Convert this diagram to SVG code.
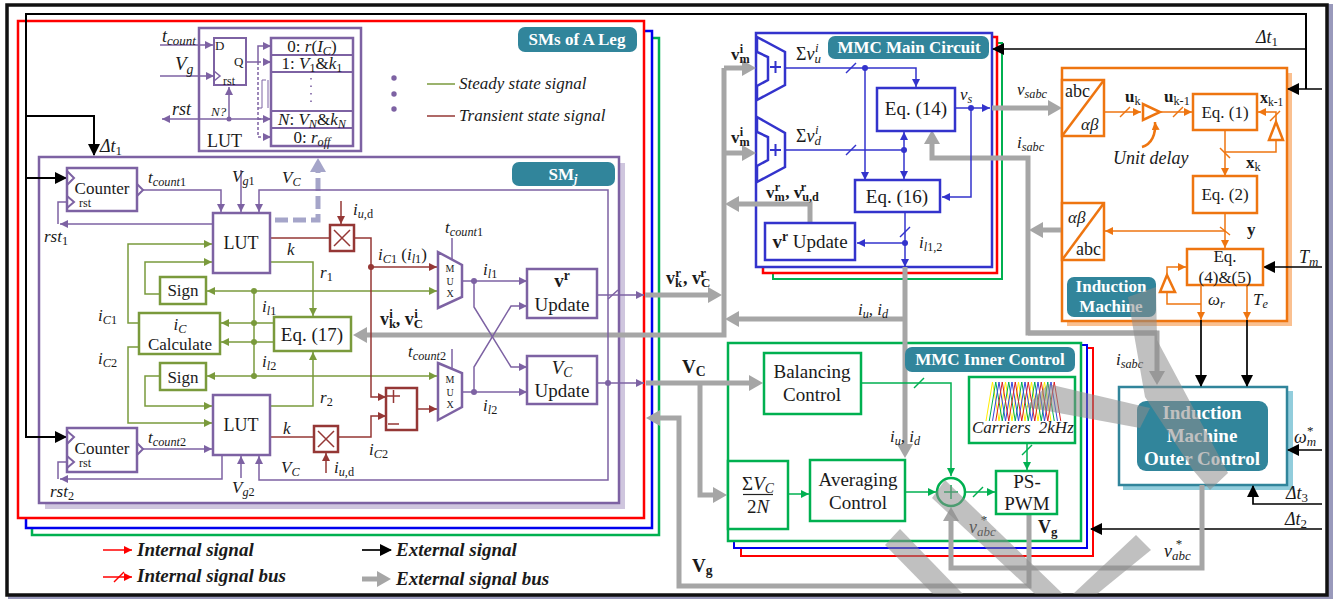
<svg xmlns="http://www.w3.org/2000/svg" width="1333" height="599" viewBox="0 0 1333 599">
<style>
text{font-family:"Liberation Serif","Times New Roman",serif;font-size:17px;fill:#1a1a1a}
.i{font-style:italic}.b{font-weight:bold}.m{text-anchor:middle}
.u{font-size:72%;}
.r{font-style:normal}
.w{fill:#fff;font-weight:bold;text-anchor:middle}
.f19{font-size:19px}.f18{font-size:18px}.f17{font-size:17px}.f16{font-size:16px}.f15{font-size:15px}.f13{font-size:13px}.f12{font-size:12px}.f10{font-size:10px}
path,line,rect,polyline,polygon,circle{fill:none}
.p{stroke:#7d62a3;stroke-width:1.5}.pB{stroke:#7d62a3;stroke-width:2.5;fill:#fff}
.g{stroke:#7a9a3c;stroke-width:1.5}.gB{stroke:#7a9a3c;stroke-width:2.5;fill:#fff}
.m1{stroke:#953735;stroke-width:1.5}.mB{stroke:#953735;stroke-width:2.5;fill:#fff}
.n{stroke:#3333cc;stroke-width:1.5}.nB{stroke:#3333cc;stroke-width:2.5;fill:#fff}
.o{stroke:#ee7510;stroke-width:1.5}.oB{stroke:#ee7510;stroke-width:2.5;fill:#fff}
.e{stroke:#00b050;stroke-width:1.5}.eB{stroke:#00b050;stroke-width:2.5;fill:#fff}
.k{stroke:#000;stroke-width:1.7}
.y{stroke:#a6a6a6;stroke-width:5}
.s{fill:#8c8c8c;opacity:.55}
</style>
<defs>
<marker id="Ap" markerUnits="userSpaceOnUse" markerWidth="9" markerHeight="9" refX="8" refY="4" orient="auto"><path d="M0 0L8 4L0 8z" style="fill:#7d62a3"/></marker>
<marker id="Ag" markerUnits="userSpaceOnUse" markerWidth="9" markerHeight="9" refX="8" refY="4" orient="auto"><path d="M0 0L8 4L0 8z" style="fill:#7a9a3c"/></marker>
<marker id="Am" markerUnits="userSpaceOnUse" markerWidth="9" markerHeight="9" refX="8" refY="4" orient="auto"><path d="M0 0L8 4L0 8z" style="fill:#953735"/></marker>
<marker id="An" markerUnits="userSpaceOnUse" markerWidth="9" markerHeight="9" refX="8" refY="4" orient="auto"><path d="M0 0L8 4L0 8z" style="fill:#3333cc"/></marker>
<marker id="Ao" markerUnits="userSpaceOnUse" markerWidth="9" markerHeight="9" refX="8" refY="4" orient="auto"><path d="M0 0L8 4L0 8z" style="fill:#ee7510"/></marker>
<marker id="Ae" markerUnits="userSpaceOnUse" markerWidth="9" markerHeight="9" refX="8" refY="4" orient="auto"><path d="M0 0L8 4L0 8z" style="fill:#00b050"/></marker>
<marker id="Ak" markerUnits="userSpaceOnUse" markerWidth="13" markerHeight="13" refX="11" refY="6" orient="auto"><path d="M0 0L12 6L0 12z" style="fill:#000"/></marker>
<marker id="Ar" markerUnits="userSpaceOnUse" markerWidth="9" markerHeight="9" refX="8" refY="4" orient="auto"><path d="M0 0L8 4L0 8z" style="fill:#ff0000"/></marker>
<marker id="Ay" markerUnits="userSpaceOnUse" markerWidth="15" markerHeight="18" refX="7" refY="8" orient="auto"><path d="M0 0L14 8L0 16z" style="fill:#a6a6a6"/></marker>
<marker id="AL" markerUnits="userSpaceOnUse" markerWidth="15" markerHeight="18" refX="7" refY="8" orient="auto"><path d="M0 0L14 8L0 16z" style="fill:#a5a5c9"/></marker>
<path id="wave" d="M0 39l6.500-39l6.500 39l6.500-39l6.500 39l6.500-39l6.500 39l6.500-39l6.500 39l6.500-39l6.500 39" style="stroke-width:1"/>
</defs>

<rect x="0" y="0" width="1333" height="599" style="fill:#fff"/>
<path d="M1328 4H1333V599H8V596H1328z" style="fill:#9999bb"/>
<rect id="outer-frame" x="7" y="5" width="1320" height="590" style="stroke:#111;stroke-width:3.5"/>

<g id="sms-frames">
<rect x="32" y="38" width="627" height="497" style="stroke:#00b050;stroke-width:2.5;fill:#fff"/>
<rect x="26" y="31" width="626" height="497" style="stroke:#0000ee;stroke-width:2.5;fill:#fff"/>
<rect x="18" y="21" width="626" height="497" style="stroke:#ff0000;stroke-width:2.5;fill:#fff"/>
</g>
<g id="mmc-main-frames">
<rect x="773" y="43" width="229" height="236" style="stroke:#00b050;stroke-width:2;fill:#fff"/>
<rect x="763" y="37" width="234" height="236" style="stroke:#ff0000;stroke-width:2.5;fill:#fff"/>
</g>
<g id="mmc-inner-frames">
<rect x="741" y="348" width="352" height="208" style="stroke:#ff0000;stroke-width:2;fill:#fff"/>
<rect x="734" y="345" width="353" height="203" style="stroke:#0000ee;stroke-width:2;fill:#fff"/>
</g>

<g id="sm-j-frame">
<rect x="45" y="163" width="580" height="346" style="fill:#cfc6de"/>
<rect x="39" y="157" width="580" height="346" style="stroke:#7d62a3;stroke-width:2.5;fill:#fff"/>
</g>
<rect id="mmc-main-box" x="756" y="33" width="236" height="234" style="stroke:#3333cc;stroke-width:2.5;fill:#fff"/>
<rect id="mmc-inner-box" x="728" y="343" width="353" height="198" style="stroke:#00b050;stroke-width:2.5;fill:#fff"/>
<g id="im-frame">
<rect x="1067" y="73" width="225" height="253" style="fill:#fac090"/>
<rect x="1062" y="68" width="225" height="253" style="stroke:#ee7510;stroke-width:2.5;fill:#fff"/>
</g>
<g id="outer-control-frame">
<rect x="1123" y="391" width="170" height="99" style="fill:#92cddc"/>
<rect x="1119" y="387" width="168" height="98" style="stroke:#31859b;stroke-width:2.5;fill:#fff"/>
</g>

<g id="lut-table">
<rect class="pB" x="199" y="28" width="162" height="123"/>
<rect x="271" y="38" width="82" height="108" class="pB"/>
<path class="p" style="stroke-width:2" d="M271 55H353M271 72H353M271 111H353M271 128H353"/>
<path d="M311 78V106" style="stroke:#7d62a3;stroke-width:1.6;stroke-dasharray:1.5 6"/>
<rect x="214" y="38" width="32" height="47" class="p" style="stroke-width:2;fill:#fff"/>
<path class="p" d="M214 71L220 76L214 81"/>
<text x="215" y="50" class="f13">D</text><text x="234" y="66" class="f13">Q</text><text x="223" y="85" class="f12">rst</text>
<text x="211" y="116" class="i f13">N?</text>
<text x="207" y="147" class="f18">LUT</text>
<text x="312" y="52" class="m f17">0: <tspan class="i">r</tspan>(<tspan class="i">I<tspan class="u" dy="3">C</tspan></tspan><tspan dy="-3">)</tspan></text>
<text x="312" y="69" class="m f17">1: <tspan class="i">V</tspan><tspan class="u" dy="3">1</tspan><tspan dy="-3">&amp;</tspan><tspan class="i">k</tspan><tspan class="u" dy="3">1</tspan></text>
<text x="312" y="125" class="m f17"><tspan class="i">N</tspan>: <tspan class="i">V<tspan class="u" dy="3">N</tspan></tspan><tspan dy="-3">&amp;</tspan><tspan class="i">k<tspan class="u" dy="3">N</tspan></tspan></text>
<text x="312" y="143" class="m f17">0: <tspan class="i">r<tspan class="u" dy="3">off</tspan></tspan></text>
</g>

<g id="connectors">
<path class="k" style="stroke-width:2" d="M26 180V14H1306V89"/>
<path class="k" d="M1306 49H993" marker-end="url(#Ak)"/>
<path class="k" d="M1322 89H1288" marker-end="url(#Ak)"/>
<path class="k" style="stroke-width:2" d="M26 116H94V155" marker-end="url(#Ak)"/>
<path class="k" style="stroke-width:2" d="M26 178H66" marker-end="url(#Ak)"/>
<path class="k" style="stroke-width:2" d="M26 178V437H66" marker-end="url(#Ak)"/>
<path class="k" d="M1322 267H1264" marker-end="url(#Ak)"/>
<path class="k" d="M1201 320V386" marker-end="url(#Ak)"/>
<path class="k" d="M1247 320V386" marker-end="url(#Ak)"/>
<path class="k" d="M1322 450H1288" marker-end="url(#Ak)"/>
<path class="k" d="M1322 504H1253V486" marker-end="url(#Ak)"/>
<path class="k" d="M1322 529H1091" marker-end="url(#Ak)"/>

<path class="y" d="M645 295H715" marker-end="url(#Ay)"/>
<path class="y" d="M724 68V335H360" marker-end="url(#Ay)"/>
<path class="y" d="M724 68H749" marker-end="url(#Ay)"/>
<path class="y" d="M724 153H749" marker-end="url(#Ay)"/>
<path class="y" d="M810 223V204H732" marker-end="url(#Ay)"/>
<path class="y" d="M905 267V451" marker-end="url(#Ay)"/>
<path class="y" d="M905 319H732" marker-end="url(#Ay)"/>
<path class="y" d="M646 383H756" marker-end="url(#Ay)"/>
<path class="y" d="M700 383V495H720" marker-end="url(#Ay)"/>
<path class="y" d="M1029 514V586H679V418H653" marker-end="url(#Ay)"/>
<path class="y" d="M1202 485V568H951V514" marker-end="url(#Ay)"/>
<path class="y" d="M992 108H1055" marker-end="url(#Ay)"/>
<path class="y" d="M1157 333H1028V158H932V137" marker-end="url(#Ay)"/>
<path class="y" d="M1028 333H1157V378" marker-end="url(#Ay)"/>
<path class="y" d="M1062 230H1036" marker-end="url(#Ay)"/>
<path d="M275 220H318V165" style="stroke:#a5a5c9;stroke-width:5;stroke-dasharray:13 5" marker-end="url(#AL)"/>

<path class="p" d="M160 45H213" marker-end="url(#Ap)"/>
<path class="p" d="M160 76H214" marker-end="url(#Ap)"/>
<path class="p" d="M271 119H162" marker-end="url(#Ap)"/>
<path class="p" d="M229 119V87" marker-end="url(#Ap)"/>
<path class="p" d="M246 62H258V46H271" marker-end="url(#Ap)"/>
<path class="p" d="M258 62H271M258 119H271M258 137H271M258 62V137" style="stroke-dasharray:3 2" />
<path class="p" d="M266 62H271" marker-end="url(#Ap)"/>
<path class="p" d="M266 119H271" marker-end="url(#Ap)"/>
<path class="p" d="M266 137H271" marker-end="url(#Ap)"/>
<path class="p" style="stroke-width:1" d="M266 80H262V108H258M268 80V108"/>
<path class="p" d="M142 190H221V212" marker-end="url(#Ap)"/>
<path class="p" d="M241 170V212" marker-end="url(#Ap)"/>
<path class="p" d="M608 383V190H259V212" marker-end="url(#Ap)"/>
<path class="p" d="M213 224H60" marker-end="url(#Ap)"/>
<path class="p" d="M58 224V202H67"/>
<path class="p" d="M142 449H212" marker-end="url(#Ap)"/>
<path class="p" d="M222 455V479H60" marker-end="url(#Ap)"/>
<path class="p" d="M58 479V462H67"/>
<path class="p" d="M241 478V456" marker-end="url(#Ap)"/>
<path class="p" d="M608 383V480H259V456" marker-end="url(#Ap)"/>
<path class="p" d="M452 238V260"/><path class="p" d="M452 349V368"/>
<path class="p" d="M462 281H527" marker-end="url(#Ap)"/>
<path class="p" d="M462 392H527" marker-end="url(#Ap)"/>
<path class="p" d="M474 281V307L511 367H527" marker-end="url(#Ap)"/>
<path class="p" d="M474 392V367L511 306H527" marker-end="url(#Ap)"/>
<path class="p" d="M597 295H644" marker-end="url(#Ap)"/>
<path class="p" d="M608 299L618 290"/>
<path class="p" d="M597 383H644" marker-end="url(#Ap)"/>

<path class="g" d="M139 323H128V244H212" marker-end="url(#Ag)"/>
<path class="g" d="M139 347H128V423H212" marker-end="url(#Ag)"/>
<path class="g" d="M160 294H145V262H212" marker-end="url(#Ag)"/>
<path class="g" d="M160 376H145V406H212" marker-end="url(#Ag)"/>
<path class="g" d="M270 262H313V316" marker-end="url(#Ag)"/>
<path class="g" d="M270 406H313V352" marker-end="url(#Ag)"/>
<path class="g" d="M300 291H207" marker-end="url(#Ag)"/>
<path class="g" d="M300 291H437" marker-end="url(#Ag)"/>
<path class="g" d="M300 376H207" marker-end="url(#Ag)"/>
<path class="g" d="M300 376H437" marker-end="url(#Ag)"/>
<path class="g" d="M254 291V376"/>
<path class="g" d="M274 323H221" marker-end="url(#Ag)"/>
<path class="g" d="M274 342H221" marker-end="url(#Ag)"/>

<path class="m1" d="M270 238H330"/>
<path class="m1" d="M341 201V224" marker-end="url(#Am)"/>
<path class="m1" d="M354 238H371V397H386" marker-end="url(#Am)"/>
<path class="m1" d="M371 267H437" marker-end="url(#Am)"/>
<path class="m1" d="M270 437H314"/>
<path class="m1" d="M326 473V453" marker-end="url(#Am)"/>
<path class="m1" d="M338 437H371V416H386" marker-end="url(#Am)"/>
<path class="m1" d="M417 409H437" marker-end="url(#Am)"/>

<path class="n" d="M785 68H916V87" marker-end="url(#An)"/>
<path class="n" d="M846 73L856 63"/>
<path class="n" d="M865 68V180" marker-end="url(#An)"/>
<path class="n" d="M785 150H904"/>
<path class="n" d="M846 155L856 145"/>
<path class="n" d="M904 150V132" marker-end="url(#An)"/>
<path class="n" d="M904 150V179" marker-end="url(#An)"/>
<path class="n" d="M955 108H990" marker-end="url(#An)"/>
<path class="n" d="M971 108V197H942" marker-end="url(#An)"/>
<path class="n" d="M905 212V267" marker-end="url(#An)"/>
<path class="n" d="M900 237L910 227"/>
<path class="n" d="M905 243H857" marker-end="url(#An)"/>

<path class="e" d="M861 383H951V476" marker-end="url(#Ae)"/>
<path class="e" d="M914 388L924 378"/>
<path class="e" d="M788 494H809" marker-end="url(#Ae)"/>
<path class="e" d="M905 492H936" marker-end="url(#Ae)"/>
<path class="e" d="M965 492H995" marker-end="url(#Ae)"/>
<path class="e" d="M973 497L983 487"/>
<path class="e" d="M1027 443V470" marker-end="url(#Ae)"/>
<path class="e" d="M1022 455L1032 445"/>

<path class="o" d="M1104 112H1141" marker-end="url(#Ao)"/>
<path class="o" d="M1120 117L1130 107"/>
<path class="o" d="M1160 112H1192" marker-end="url(#Ao)"/>
<path class="o" d="M1173 117L1183 107"/>
<path class="o" style="stroke-width:2.5" d="M1142 147C1152 144 1156 134 1155 122" marker-end="url(#Ao)"/>
<path class="o" d="M1276 122V112H1258" marker-end="url(#Ao)"/>
<path class="o" d="M1270 121L1280 111"/>
<path class="o" d="M1276 140V152H1225"/>
<path class="o" d="M1225 130V176" marker-end="url(#Ao)"/>
<path class="o" d="M1220 148L1230 158"/>
<path class="o" d="M1225 213V248" marker-end="url(#Ao)"/>
<path class="o" d="M1220 227L1230 235"/>
<path class="o" d="M1225 231H1105" marker-end="url(#Ao)"/>
<path class="o" d="M1167 275V267H1186" marker-end="url(#Ao)"/>
<path class="o" d="M1167 292V304H1201"/>
<path class="o" d="M1201 285V320" marker-end="url(#Ao)"/>
<path class="o" d="M1247 285V320" marker-end="url(#Ao)"/>

<g id="junctions">
<circle cx="229" cy="119" r="2.5" style="fill:#7d62a3"/>
<circle cx="474" cy="281" r="3" style="fill:#7d62a3"/>
<circle cx="474" cy="392" r="3" style="fill:#7d62a3"/>
<circle cx="608" cy="383" r="3" style="fill:#7d62a3"/>
<circle cx="254" cy="291" r="3" style="fill:#7a9a3c"/>
<circle cx="254" cy="323" r="3" style="fill:#7a9a3c"/>
<circle cx="254" cy="342" r="3" style="fill:#7a9a3c"/>
<circle cx="254" cy="376" r="3" style="fill:#7a9a3c"/>
<circle cx="371" cy="267" r="3" style="fill:#953735"/>
<circle cx="865" cy="68" r="3" style="fill:#3333cc"/>
<circle cx="904" cy="150" r="3" style="fill:#3333cc"/>
<circle cx="971" cy="108" r="3" style="fill:#3333cc"/>
<circle cx="905" cy="243" r="3" style="fill:#3333cc"/>
<circle cx="394" cy="78" r="2.7" style="fill:#7d62a3"/>
<circle cx="394" cy="94" r="2.7" style="fill:#7d62a3"/>
<circle cx="394" cy="109" r="2.7" style="fill:#7d62a3"/>
</g>

<path style="stroke:#7a9a3c;stroke-width:1.5" d="M427 84H455"/>
<path style="stroke:#953735;stroke-width:1.5" d="M427 116H455"/>
<path style="stroke:#ff0000;stroke-width:1.5" d="M103 550H132" marker-end="url(#Ar)"/>
<path style="stroke:#ff0000;stroke-width:1.5" d="M103 577H132" marker-end="url(#Ar)"/>
<path style="stroke:#ff0000;stroke-width:1.5" d="M114 582L124 572"/>
<path class="k" d="M362 550H391" marker-end="url(#Ak)"/>
<path class="y" d="M362 579H384" marker-end="url(#Ay)"/>
</g>

<g id="counter1"><rect class="pB" x="67" y="168" width="70" height="43"/><path class="p" style="stroke-width:2" d="M67 171L74 178L67 185M67 196L74 202L67 208M137 184L143 190L137 196"/><text x="102" y="194" class="m">Counter</text><text x="79" y="207" class="f12">rst</text></g>
<g id="counter2"><rect class="pB" x="67" y="428" width="70" height="44"/><path class="p" style="stroke-width:2" d="M67 431L74 437L67 444M67 456L74 462L67 468M137 443L143 449L137 455"/><text x="102" y="454" class="m">Counter</text><text x="79" y="467" class="f12">rst</text></g>
<g id="lut1"><rect class="pB" x="213" y="213" width="57" height="60"/><text x="241" y="249" class="m f18">LUT</text></g>
<g id="lut2"><rect class="pB" x="213" y="395" width="57" height="60"/><text x="241" y="431" class="m f18">LUT</text></g>
<g id="mult1"><rect class="mB" x="330" y="225" width="24" height="26"/><path class="m1" d="M334 230L350 246M350 230L334 246"/></g>
<g id="mult2"><rect class="mB" x="314" y="426" width="24" height="26"/><path class="m1" d="M318 431L334 447M334 431L318 447"/></g>
<g id="sign1"><rect class="gB" x="160" y="277" width="46" height="27"/><text x="183" y="296" class="m">Sign</text></g>
<g id="sign2"><rect class="gB" x="160" y="363" width="46" height="27"/><text x="183" y="383" class="m">Sign</text></g>
<g id="ic-calc"><rect class="gB" x="139" y="313" width="81" height="41"/><text x="180" y="330" class="m i">i<tspan class="u" dy="3">C</tspan></text><text x="180" y="350" class="m">Calculate</text></g>
<g id="eq17"><rect class="gB" x="274" y="317" width="77" height="34"/><text x="312" y="341" class="m f19">Eq. (17)</text></g>
<g id="subtractor"><rect class="mB" x="386" y="388" width="31" height="42"/><path class="m1" d="M387 396H400M393.500 390V403M388 424H399"/></g>
<g id="mux1"><polygon class="pB" points="438,252 462,265 462,297 438,308"/><text x="450" y="272" class="m f10">M</text><text x="450" y="285" class="m f10">U</text><text x="450" y="297" class="m f10">X</text></g>
<g id="mux2"><polygon class="pB" points="438,363 462,373 462,407 438,420"/><text x="450" y="383" class="m f10">M</text><text x="450" y="396" class="m f10">U</text><text x="450" y="408" class="m f10">X</text></g>
<g id="vr-update"><rect class="pB" x="527" y="269" width="70" height="49"/><text x="562" y="287" class="m b f19">v<tspan class="u" dy="-7">r</tspan></text><text x="562" y="311" class="m f19">Update</text></g>
<g id="vc-update"><rect class="pB" x="527" y="356" width="70" height="48"/><text x="562" y="374" class="m i f19">V<tspan class="u" dy="3">C</tspan></text><text x="562" y="397" class="m f19">Update</text></g>

<g id="adder1"><path class="nB" d="M757 37L785 52V85L757 100V86L768 80V57L757 52z"/><path class="n" style="stroke-width:2" d="M770 67H781M775.500 61V73"/></g>
<g id="adder2"><path class="nB" d="M757 117L785 133V167L757 182V166L768 160V137L757 132z"/><path class="n" style="stroke-width:2" d="M770 150H781M775.500 144V156"/></g>
<g id="eq14"><rect class="nB" x="877" y="88" width="78" height="43"/><text x="916" y="115" class="m f19">Eq. (14)</text></g>
<g id="eq16"><rect class="nB" x="855" y="180" width="85" height="32"/><text x="897" y="203" class="m f19">Eq. (16)</text></g>
<g id="vr-update-main"><rect class="nB" x="765" y="223" width="90" height="37"/><text x="810" y="248" class="m f19"><tspan class="b">v<tspan class="u" dy="-7">r</tspan></tspan><tspan dy="7"> Update</tspan></text></g>

<g id="abc-1"><rect class="oB" x="1062" y="80" width="42" height="56"/><path class="o" style="stroke-width:2.500" d="M1104 80L1062 136"/><text x="1065" y="97" class="f18">abc</text><text x="1081" y="130" class="i">αβ</text></g>
<g id="abc-2"><rect class="oB" x="1062" y="203" width="42" height="57"/><path class="o" style="stroke-width:2.500" d="M1104 203L1062 260"/><text x="1068" y="223" class="i">αβ</text><text x="1076" y="255" class="f18">abc</text></g>
<g id="delay1"><polygon class="oB" points="1143,104 1143,120 1160,112"/></g>
<g id="delay2"><polygon class="oB" points="1276,122 1269,140 1283,140"/></g>
<g id="delay3"><polygon class="oB" points="1167,275 1160,292 1175,292"/></g>
<g id="eq1"><rect class="oB" x="1193" y="94" width="64" height="36"/><text x="1225" y="118" class="m">Eq. (1)</text></g>
<g id="eq2"><rect class="oB" x="1193" y="176" width="64" height="37"/><text x="1225" y="200" class="m">Eq. (2)</text></g>
<g id="eq45"><rect class="oB" x="1187" y="249" width="76" height="36"/><text x="1225" y="262" class="m">Eq.</text><text x="1225" y="283" class="m">(4)&amp;(5)</text></g>
<g id="im-label"><rect style="fill:#31859b" x="1067" y="277" width="89" height="40" rx="7"/><text x="1111" y="292" class="w f17">Induction</text><text x="1111" y="312" class="w f17">Machine</text></g>
<g id="outer-label"><rect style="fill:#31859b" x="1137" y="401" width="131" height="70" rx="9"/><text x="1202" y="419" class="w f19">Induction</text><text x="1202" y="442" class="w f19">Machine</text><text x="1202" y="465" class="w f19">Outer Control</text></g>

<g id="balancing"><rect class="eB" x="764" y="353" width="97" height="61"/><text x="812" y="378" class="m f19">Balancing</text><text x="812" y="401" class="m f19">Control</text></g>
<g id="sigma"><rect class="eB" x="728" y="461" width="60" height="68"/><text x="758" y="490" class="m f19">Σ<tspan class="i">V<tspan class="u" dy="3">C</tspan></tspan></text><path d="M743 494.500H773" style="stroke:#222;stroke-width:1.200"/><text x="758" y="513" class="m i f19"><tspan class="r">2</tspan>N</text></g>
<g id="averaging"><rect class="eB" x="810" y="460" width="95" height="61"/><text x="858" y="486" class="m f19">Averaging</text><text x="858" y="509" class="m f19">Control</text></g>
<g id="sum"><circle class="eB" cx="951" cy="492" r="14"/><path class="e" d="M944 492H958M951 485V499"/></g>
<g id="pspwm"><rect class="eB" x="996" y="471" width="61" height="43"/><text x="1027" y="488" class="m f19">PS-</text><text x="1027" y="510" class="m f19">PWM</text></g>
<g id="carriers"><rect class="eB" x="969" y="377" width="106" height="66"/>
<use href="#wave" x="986" y="382" style="stroke:#ffee00"/>
<use href="#wave" x="989.250" y="382" style="stroke:#00b050"/>
<use href="#wave" x="992.500" y="382" style="stroke:#3344dd"/>
<use href="#wave" x="995.750" y="382" style="stroke:#dd2222"/>
<text x="972" y="433" class="i">Carriers <tspan dx="4">2kHz</tspan></text></g>

<g id="headers">
<rect x="518" y="27" width="119" height="25" rx="7" style="fill:#31859b"/><text x="577" y="45" class="w f17">SMs of A Leg</text>
<rect x="512" y="162" width="103" height="24" rx="7" style="fill:#31859b"/><text x="563" y="180" class="w f17">SM<tspan class="i u" dy="3">j</tspan></text>
<rect x="828" y="36" width="161" height="23" rx="7" style="fill:#31859b"/><text x="909" y="53" class="w f17">MMC Main Circuit</text>
<rect x="905" y="347" width="170" height="25" rx="7" style="fill:#31859b"/><text x="990" y="365" class="w f17">MMC Inner Control</text>
</g>

<g id="labels">
<text x="162" y="42" class="i f18">t<tspan class="u" dy="3">count</tspan></text>
<text x="175" y="70" class="i f19">V<tspan class="u" dy="4">g</tspan></text>
<text x="172" y="115" class="i f18">rst</text>
<text x="459" y="89" class="i">Steady state signal</text>
<text x="459" y="121" class="i">Transient state signal</text>
<text x="100" y="152" class="i f18">Δt<tspan class="u r" dy="3">1</tspan></text>
<text x="148" y="183" class="i">t<tspan class="u" dy="3">count</tspan><tspan class="u r">1</tspan></text>
<text x="232" y="182" class="i">V<tspan class="u" dy="3">g</tspan><tspan class="u r">1</tspan></text>
<text x="282" y="183" class="i">V<tspan class="u" dy="3">C</tspan></text>
<text x="353" y="215" class="i">i<tspan class="u" dy="3">u</tspan><tspan class="u r">,d</tspan></text>
<text x="378" y="260" class="i">i<tspan class="u" dy="3">C</tspan><tspan class="u r">1</tspan><tspan class="r" dy="-3"> (</tspan>i<tspan class="u" dy="3">l</tspan><tspan class="u r">1</tspan><tspan class="r" dy="-3">)</tspan></text>
<text x="287" y="255" class="i">k</text>
<text x="320" y="278" class="i">r<tspan class="u r" dy="3">1</tspan></text>
<text x="44" y="242" class="i">rst<tspan class="u r" dy="3">1</tspan></text>
<text x="262" y="312" class="i">i<tspan class="u" dy="3">l</tspan><tspan class="u r">1</tspan></text>
<text x="98" y="321" class="i">i<tspan class="u" dy="3">C</tspan><tspan class="u r">1</tspan></text>
<text x="98" y="364" class="i">i<tspan class="u" dy="3">C</tspan><tspan class="u r">2</tspan></text>
<text x="262" y="367" class="i">i<tspan class="u" dy="3">l</tspan><tspan class="u r">2</tspan></text>
<text x="320" y="403" class="i">r<tspan class="u r" dy="3">2</tspan></text>
<text x="283" y="434" class="i">k</text>
<text x="369" y="455" class="i">i<tspan class="u" dy="3">C</tspan><tspan class="u r">2</tspan></text>
<text x="281" y="473" class="i">V<tspan class="u" dy="3">C</tspan></text>
<text x="334" y="473" class="i">i<tspan class="u" dy="3">u</tspan><tspan class="u r">,d</tspan></text>
<text x="232" y="493" class="i">V<tspan class="u" dy="3">g</tspan><tspan class="u r">2</tspan></text>
<text x="50" y="497" class="i">rst<tspan class="u r" dy="3">2</tspan></text>
<text x="148" y="443" class="i">t<tspan class="u" dy="3">count</tspan><tspan class="u r">2</tspan></text>
<text x="445" y="233" class="i">t<tspan class="u" dy="3">count</tspan><tspan class="u r">1</tspan></text>
<text x="408" y="357" class="i">t<tspan class="u" dy="3">count</tspan><tspan class="u r">2</tspan></text>
<text x="483" y="275" class="i">i<tspan class="u" dy="3">l</tspan><tspan class="u r">1</tspan></text>
<text x="483" y="411" class="i">i<tspan class="u" dy="3">l</tspan><tspan class="u r">2</tspan></text>
<text x="380" y="325" class="b f18">v<tspan class="u" dy="3">k</tspan><tspan class="u" dy="-10" dx="-7">i</tspan><tspan dy="7" dx="3">, v</tspan><tspan class="u" dy="3">C</tspan><tspan class="u" dy="-10" dx="-9">i</tspan></text>
<text x="666" y="284" class="b f18">v<tspan class="u" dy="3">k</tspan><tspan class="u" dy="-10" dx="-7">r</tspan><tspan dy="7" dx="2">, v</tspan><tspan class="u" dy="3">C</tspan><tspan class="u" dy="-10" dx="-10">r</tspan></text>
<text x="682" y="373" class="b f19">V<tspan class="u" dy="3">C</tspan></text>
<text x="692" y="572" class="b f19">V<tspan class="u" dy="3">g</tspan></text>
<text x="731" y="60" class="b">v<tspan class="u" dy="3">m</tspan><tspan class="u" dy="-10" dx="-10">i</tspan></text>
<text x="731" y="143" class="b">v<tspan class="u" dy="3">m</tspan><tspan class="u" dy="-10" dx="-10">i</tspan></text>
<text x="796" y="60" class="f18">Σ<tspan class="i">v<tspan class="u" dy="3">u</tspan><tspan class="u" dy="-11" dx="-6">i</tspan></tspan></text>
<text x="796" y="142" class="f18">Σ<tspan class="i">v<tspan class="u" dy="3">d</tspan><tspan class="u" dy="-11" dx="-6">i</tspan></tspan></text>
<text x="960" y="100" class="i">v<tspan class="u" dy="3">s</tspan></text>
<text x="1017" y="95" class="i">v<tspan class="u" dy="3">sabc</tspan></text>
<text x="1017" y="148" class="i">i<tspan class="u" dy="3">sabc</tspan></text>
<text x="1116" y="365" class="i">i<tspan class="u" dy="3">sabc</tspan></text>
<text x="766" y="198" class="b">v<tspan class="u" dy="3">m</tspan><tspan class="u" dy="-10" dx="-10">r</tspan><tspan dy="7" dx="5">, v</tspan><tspan class="u" dy="3">u,d</tspan><tspan class="u" dy="-10" dx="-18">r</tspan></text>
<text x="919" y="248" class="i">i<tspan class="u" dy="3">l</tspan><tspan class="u r">1,2</tspan></text>
<text x="858" y="315" class="i">i<tspan class="u" dy="3">u</tspan><tspan dy="-3">, i</tspan><tspan class="u" dy="3">d</tspan></text>
<text x="890" y="442" class="i">i<tspan class="u" dy="3">u</tspan><tspan dy="-3">, i</tspan><tspan class="u" dy="3">d</tspan></text>
<text x="1125" y="102" class="b">u<tspan class="u r" style="font-weight:normal" dy="3">k</tspan></text>
<text x="1164" y="102" class="b">u<tspan class="u" style="font-weight:normal" dy="3">k-1</tspan></text>
<text x="1260" y="103" class="b f16">x<tspan class="u" style="font-weight:normal" dy="3">k-1</tspan></text>
<text x="1246" y="168" class="b">x<tspan class="u" style="font-weight:normal" dy="3">k</tspan></text>
<text x="1247" y="235" class="b">y</text>
<text x="1113" y="164" class="i f18">Unit delay</text>
<text x="1208" y="305" class="i">ω<tspan class="u" dy="3">r</tspan></text>
<text x="1253" y="305" class="i">T<tspan class="u" dy="3">e</tspan></text>
<text x="1299" y="263" class="i f18">T<tspan class="u" dy="3">m</tspan></text>
<text x="1256" y="43" class="i f18">Δt<tspan class="u r" dy="3">1</tspan></text>
<text x="1294" y="443" class="i f18">ω<tspan class="u" dy="3">m</tspan><tspan class="u r" dy="-11" dx="-9">*</tspan></text>
<text x="1286" y="499" class="i f18">Δt<tspan class="u r" dy="3">3</tspan></text>
<text x="1285" y="525" class="i f18">Δt<tspan class="u r" dy="3">2</tspan></text>
<text x="1164" y="557" class="i f18">v<tspan class="u" dy="3">abc</tspan><tspan class="u r" dy="-12" dx="-15">*</tspan></text>
<text x="969" y="533" class="i f18">v<tspan class="u" dy="3">abc</tspan><tspan class="u r" dy="-12" dx="-15">*</tspan></text>
<text x="1038" y="533" class="b f18">V<tspan class="u" dy="3">g</tspan></text>
<text x="137" y="556" class="b i f19">Internal signal</text>
<text x="137" y="582" class="b i f19">Internal signal bus</text>
<text x="396" y="556" class="b i f19">External signal</text>
<text x="396" y="585" class="b i f19">External signal bus</text>
</g>

<g id="overlay-bands">
<polygon class="s" points="1128,297 1156,287 1157,340 1228,473 1210,490 1193,470 1145,397 1135,340"/>
<polygon class="s" points="1048,384 1150,408 1140,428 1026,407"/>
<polygon class="s" points="932,498 945,480 1063,594 1035,594"/>
<polygon class="s" points="885,545 900,529 963,594 933,594"/>
<polygon class="s" points="1136,535 1151,550 1097,594 1073,594"/>
</g>
</svg>
